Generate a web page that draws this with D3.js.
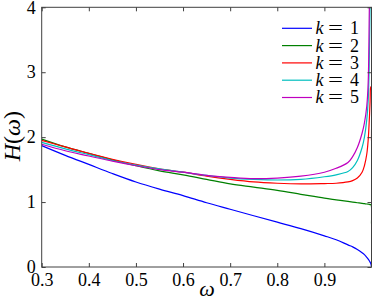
<!DOCTYPE html>
<html>
<head>
<meta charset="utf-8">
<script src="https://cdn.jsdelivr.net/npm/d3@7"></script>
<style>
  body { margin: 0; background: #fff; }
</style>
</head>
<body>
<script>
var margin = {top: 7.3, right: 2.5, bottom: 35, left: 41.7}
  , width = 374 - margin.left - margin.right
  , height = 302 - margin.top - margin.bottom;
var serif = "Liberation Serif";

// omega grid (denser near 1 where the curves blow up)
var omega = [0.3, 0.35, 0.4, 0.45, 0.5, 0.55, 0.6, 0.65, 0.7, 0.75, 0.8, 0.85, 0.9,
             0.925, 0.95, 0.96, 0.97, 0.98, 0.985, 0.99, 0.993, 0.995, 0.997, 0.998, 0.999, 1.0];

var k1 = [1.87, 1.72, 1.58, 1.44, 1.31, 1.20, 1.10, 0.99, 0.89, 0.79, 0.69, 0.59, 0.48,
          0.42, 0.34, 0.31, 0.27, 0.22, 0.19, 0.15, 0.12, 0.10, 0.075, 0.06, 0.04, 0.0];
var k2 = [1.97, 1.85, 1.75, 1.65, 1.56, 1.48, 1.42, 1.35, 1.28, 1.23, 1.18, 1.12, 1.06,
          1.035, 1.01, 1.00, 0.99, 0.98, 0.975, 0.97, 0.967, 0.965, 0.962, 0.96, 0.96, 0.67];
var k3 = [1.95, 1.85, 1.75, 1.66, 1.58, 1.51, 1.46, 1.40, 1.35, 1.31, 1.29, 1.28, 1.285,
          1.29, 1.31, 1.33, 1.37, 1.46, 1.56, 1.74, 1.96, 2.22, 2.55, 2.76, 2.78, 1.95];
var k4 = [1.92, 1.82, 1.73, 1.64, 1.57, 1.51, 1.46, 1.41, 1.37, 1.35, 1.34, 1.35, 1.39,
          1.42, 1.47, 1.53, 1.64, 1.84, 2.00, 2.27, 2.57, 3.05, 4.10, 5.00, 6.00, 7.00];
var k5 = [1.89, 1.79, 1.71, 1.63, 1.56, 1.50, 1.46, 1.41, 1.38, 1.36, 1.37, 1.40, 1.46,
          1.52, 1.61, 1.70, 1.84, 2.06, 2.22, 2.48, 2.85, 3.75, 5.00, 6.00, 7.00, 8.00];

var seriesNames = ["k = 1", "k = 2", "k = 3", "k = 4", "k = 5"];
var seriesValues = [k1, k2, k3, k4, k5];
var colors = ["#0000ff", "#008000", "#ff0000", "#00bfbf", "#bf00bf"];

var xTicks = [0.3, 0.4, 0.5, 0.6, 0.7, 0.8, 0.9];
var yTicks = [0, 1, 2, 3, 4];

var svg = d3.select("body").append("svg")
    .attr("width", 374)
    .attr("height", 302)
    .append("g")
    .attr("transform", "translate(" + margin.left + "," + margin.top + ")");

var xScale = d3.scaleLinear().domain([0.3, 1.0]).range([0, width]);
var yScale = d3.scaleLinear().domain([0, 4]).range([height, 0]);

svg.append("clipPath")
    .attr("id", "plotclip")
    .append("rect")
    .attr("width", width)
    .attr("height", height);

// the curves
var line = d3.line()
    .x(function(d) { return xScale(d.w); })
    .y(function(d) { return yScale(d.v); })
    .curve(d3.curveCatmullRom.alpha(0.5));

seriesValues.forEach(function(vals, i) {
    var pts = omega.map(function(w, j) { return {w: w, v: vals[j]}; });
    svg.append("path")
        .datum(pts)
        .attr("clip-path", "url(#plotclip)")
        .attr("fill", "none")
        .attr("stroke", colors[i])
        .attr("stroke-width", 1.2)
        .attr("d", line);
});

// axes, ticks pointing inwards on all four sides (box on)
var axisColor = "#404040";

function styleAxis(g) {
    g.attr("font-family", serif).attr("font-size", 18);
    g.select(".domain").remove();
    g.selectAll(".tick line").attr("stroke", axisColor);
    g.selectAll(".tick text").attr("fill", "#000");
}

svg.append("g")
    .attr("transform", "translate(0," + height + ")")
    .call(d3.axisBottom(xScale).tickValues(xTicks).tickSize(-4).tickPadding(6)
        .tickFormat(d3.format(".1f")))
    .call(styleAxis);

svg.append("g")
    .call(d3.axisTop(xScale).tickValues(xTicks).tickSize(-4).tickFormat(""))
    .call(styleAxis);

svg.append("g")
    .call(d3.axisLeft(yScale).tickValues(yTicks).tickSize(-4).tickPadding(6)
        .tickFormat(d3.format("d")))
    .call(styleAxis);

svg.append("g")
    .attr("transform", "translate(" + width + ",0)")
    .call(d3.axisRight(yScale).tickValues(yTicks).tickSize(-4).tickFormat(""))
    .call(styleAxis);

svg.append("rect")
    .attr("width", width)
    .attr("height", height)
    .attr("fill", "none")
    .attr("stroke", axisColor)
    .attr("stroke-width", 1);

// axis titles
svg.append("text")
    .attr("text-anchor", "middle")
    .attr("transform", "translate(" + (xScale(0.65) + 0.5) + "," + (height + 29) + ")")
    .attr("font-family", serif)
    .attr("font-size", 22)
    .attr("font-style", "italic")
    .text("ω");

var ylab = svg.append("text")
    .attr("text-anchor", "middle")
    .attr("transform", "translate(" + (-margin.left + 20) + "," + (yScale(2) - 1) + ")rotate(-90)")
    .attr("font-family", serif)
    .attr("font-size", 24);
ylab.append("tspan").attr("font-style", "italic").text("H");
ylab.append("tspan").text("(");
ylab.append("tspan").attr("font-style", "italic").text("ω");
ylab.append("tspan").text(")");

// legend (no box)
var legend = svg.append("g").attr("class", "legend")
    .attr("font-family", serif)
    .attr("font-size", 18);
seriesNames.forEach(function(name, i) {
    var y = 21 + i * 17.3;
    legend.append("line")
        .attr("x1", 282 - margin.left)
        .attr("x2", 312 - margin.left)
        .attr("y1", y)
        .attr("y2", y)
        .attr("stroke", colors[i])
        .attr("stroke-width", 1.2);
    legend.append("text")
        .attr("x", 315.5 - margin.left)
        .attr("y", y + 6)
        .attr("font-style", "italic")
        .text("k");
    legend.append("text")
        .attr("x", 335.5 - margin.left)
        .attr("y", y + 6)
        .attr("text-anchor", "middle")
        .attr("textLength", 15)
        .attr("lengthAdjust", "spacingAndGlyphs")
        .text("=");
    legend.append("text")
        .attr("x", 350 - margin.left)
        .attr("y", y + 6)
        .text(name.split(" = ")[1]);
});
</script>
</body>
</html>
